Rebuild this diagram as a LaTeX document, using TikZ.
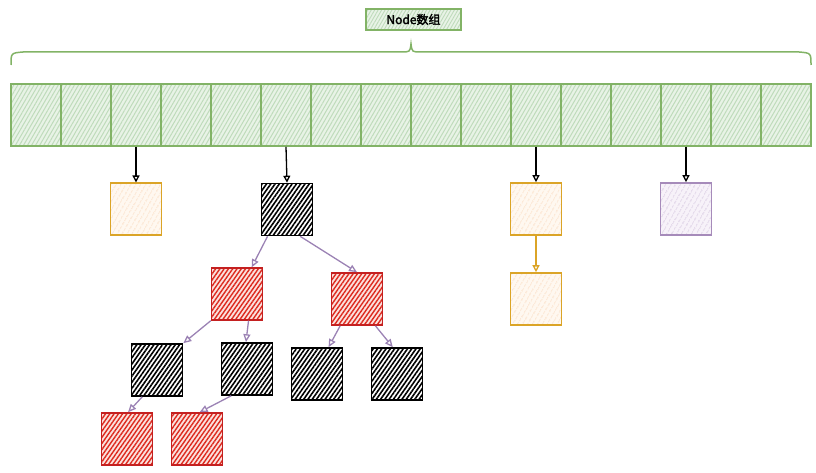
\documentclass[tikz,border=0pt]{standalone}
\usepackage{fontspec}
\newfontfamily\cjk[AutoFakeBold=2.5]{Noto Sans CJK SC}
\usetikzlibrary{patterns.meta,arrows.meta,calc}
\definecolor{gstroke}{HTML}{82B366}
\definecolor{gfill}{HTML}{E8F3E6}
\definecolor{ghatch}{HTML}{BFDBBB}
\definecolor{ystroke}{HTML}{DBA427}
\definecolor{yfill}{HTML}{FFF8F0}
\definecolor{yhatch}{HTML}{FBE0C8}
\definecolor{pstroke}{HTML}{A68BBA}
\definecolor{pfill}{HTML}{F7F2F9}
\definecolor{phatch}{HTML}{DACCE3}
\definecolor{rstroke}{HTML}{C42020}
\definecolor{rfill}{HTML}{FBE1DE}
\definecolor{rhatch}{HTML}{DD2A1E}
\definecolor{edgec}{HTML}{9B82B4}
\tikzset{
  x=1pt,y=-1pt,
  hbox/.style={draw, line width=1.6pt, inner sep=0pt, minimum width=51pt, minimum height=52pt},
  cell/.style={hbox, draw=gstroke, minimum width=50pt, minimum height=62pt, preaction={fill=gfill}, pattern={Lines[angle=60,distance=3.5pt,line width=1pt]}, pattern color=ghatch},
  ybox/.style={hbox, draw=ystroke, preaction={fill=yfill}, pattern={Lines[angle=60,distance=4pt,line width=1pt]}, pattern color=yhatch},
  pbox/.style={hbox, draw=pstroke, preaction={fill=pfill}, pattern={Lines[angle=60,distance=4pt,line width=1pt]}, pattern color=phatch},
  rbox/.style={hbox, draw=rstroke, preaction={fill=rfill}, pattern={Lines[angle=55,distance=3.5pt,line width=1.4pt]}, pattern color=rhatch},
  kbox/.style={hbox, draw=black, preaction={fill=white}, pattern={Lines[angle=55,distance=3.5pt,line width=1.6pt]}, pattern color=black},
  tbox/.style={draw=gstroke, line width=1.5pt, preaction={fill=gfill}, pattern={Lines[angle=60,distance=3pt,line width=0.9pt]}, pattern color=ghatch, minimum width=95pt, minimum height=21pt, inner sep=0pt},
  arr/.style={-{Triangle[open,length=7pt,width=7pt]}, line width=1.3pt, black},
  yarr/.style={arr, draw=ystroke},
  earr/.style={-{Triangle[open,length=8pt,width=7pt]}, line width=1.3pt, draw=edgec},
}
\begin{document}
\begin{tikzpicture}
\useasboundingbox (0,0) rectangle (816,473);
\node[tbox] (title) at (413.5,19.5) {\cjk\bfseries\fontsize{12}{14}\selectfont Node数组};
\draw[gstroke, line width=1.5pt] (11,65) .. controls (11,53) .. (23,52) -- (401,52) .. controls (410,52) .. (411,44) .. controls (412,52) .. (421,52) -- (799,52) .. controls (811,53) .. (811,65);
\foreach \i in {1,...,16} {
  \node[cell] (c\i) at ({11+50*(\i-1)+25},115) {};
}
\node[ybox] (y1) at (136,209) {};
\node[kbox] (r) at (287,209.5) {};
\node[ybox] (y2) at (536,209) {};
\node[pbox] (p1) at (686,209) {};
\node[ybox] (y3) at (536,299) {};
\node[rbox] (rl) at (237,294) {};
\node[rbox] (rr) at (357,299) {};
\node[kbox] (k1) at (157,370) {};
\node[kbox] (k2) at (247,369) {};
\node[kbox] (k3) at (317,374) {};
\node[kbox] (k4) at (397,374) {};
\node[rbox] (l1) at (127,439) {};
\node[rbox] (l2) at (197,439) {};
\draw[arr] (c3.south) -- (y1.north);
\draw[arr] (c6.south) -- (r.north);
\draw[arr] (c11.south) -- (y2.north);
\draw[arr] (c14.south) -- (p1.north);
\draw[yarr] (y2.south) -- (y3.north);
\draw[earr] ($(r.south west)!0.13!(r.south east)$) -- ($(rl.north west)!0.78!(rl.north east)$);
\draw[earr] ($(r.south west)!0.75!(r.south east)$) -- ($(rr.north west)!0.5!(rr.north east)$);
\draw[earr] (rl.south west) -- (k1.north east);
\draw[earr] ($(rl.south west)!0.72!(rl.south east)$) -- ($(k2.north west)!0.48!(k2.north east)$);
\draw[earr] ($(rr.south west)!0.18!(rr.south east)$) -- ($(k3.north west)!0.72!(k3.north east)$);
\draw[earr] ($(rr.south west)!0.85!(rr.south east)$) -- ($(k4.north west)!0.42!(k4.north east)$);
\draw[earr] ($(k1.south west)!0.22!(k1.south east)$) -- ($(l1.north west)!0.52!(l1.north east)$);
\draw[earr] ($(k2.south west)!0.2!(k2.south east)$) -- ($(l2.north west)!0.55!(l2.north east)$);
\end{tikzpicture}
\end{document}
